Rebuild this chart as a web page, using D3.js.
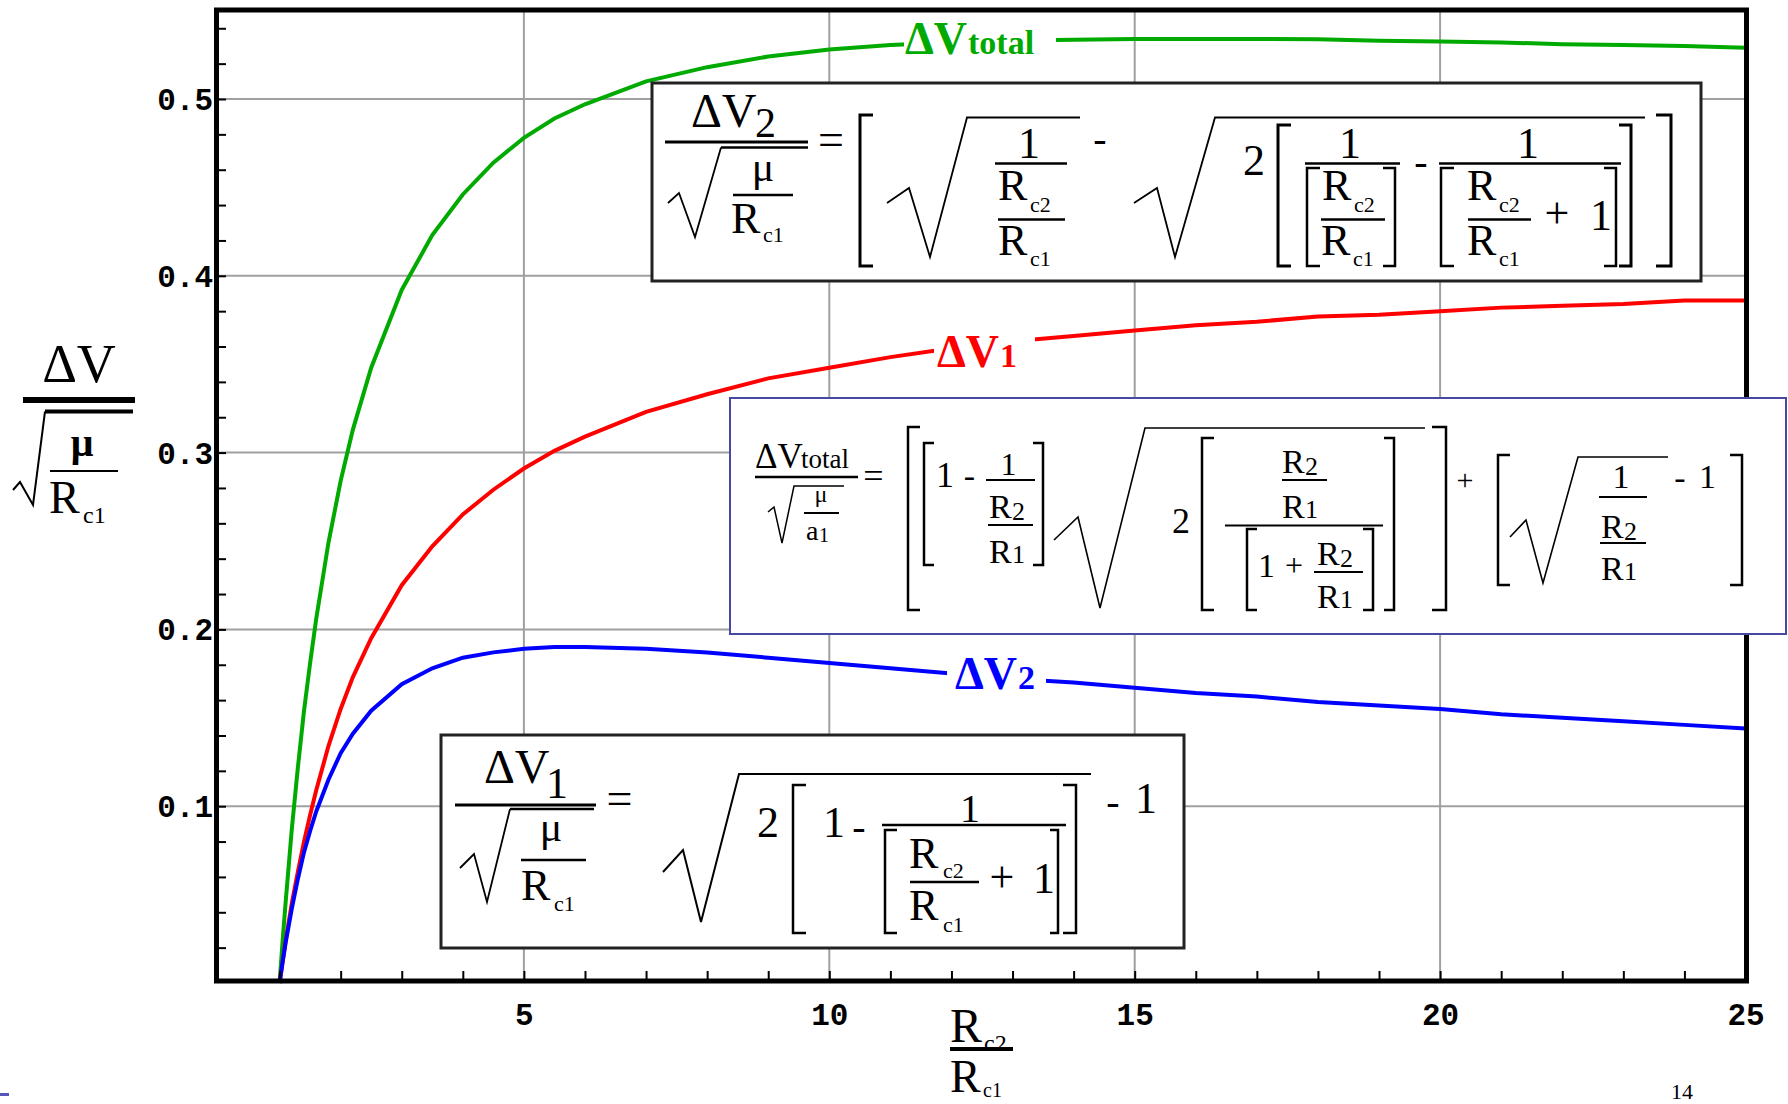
<!DOCTYPE html>
<html><head><meta charset="utf-8">
<script src="https://cdn.jsdelivr.net/npm/d3@7"></script>
<style>html,body{margin:0;padding:0;background:#fff;overflow:hidden}</style>
</head><body>
<script>
// ---------------- DATA ----------------
const xVals   = [1,1.05,1.1,1.2,1.3,1.4,1.5,1.6,1.8,2,2.2,2.5,3,3.5,4,4.5,5,5.5,6,7,8,9,10,11,12,13,14,15,16,17,18,19,20,21,22,23,24,25];
const dvTotal = [0,0.024,0.046,0.087,0.122,0.154,0.181,0.206,0.249,0.284,0.313,0.348,0.392,0.423,0.446,0.464,0.478,0.489,0.497,0.510,0.518,0.524,0.528,0.5305,0.532,0.533,0.5335,0.534,0.534,0.534,0.5338,0.533,0.5325,0.532,0.531,0.5305,0.530,0.529];
const dv1     = [0,0.012,0.024,0.045,0.063,0.080,0.095,0.109,0.134,0.155,0.173,0.195,0.225,0.247,0.265,0.279,0.291,0.301,0.309,0.323,0.333,0.342,0.348,0.354,0.359,0.363,0.366,0.369,0.372,0.374,0.377,0.378,0.380,0.382,0.383,0.384,0.386,0.386];
const dv2     = [0,0.012,0.023,0.042,0.059,0.074,0.086,0.097,0.115,0.130,0.141,0.154,0.169,0.178,0.184,0.187,0.189,0.190,0.190,0.189,0.187,0.184,0.181,0.178,0.175,0.172,0.170,0.167,0.164,0.162,0.159,0.157,0.155,0.152,0.150,0.148,0.146,0.144];
const seriesNames  = ["total","1","2"];
const xTicks       = [5,10,15,20,25];
const xTickLabels  = ["5","10","15","20","25"];
const yTicks       = [0.1,0.2,0.3,0.4,0.5];
const yTickLabels  = ["0.1","0.2","0.3","0.4","0.5"];

// ---------------- SETUP ----------------
const W = 1788, H = 1104;
const SERIF = "'Liberation Serif','Times New Roman',serif";
const MONO  = "'Liberation Mono','Courier New',monospace";
const svg = d3.select("body").append("svg").attr("width", W).attr("height", H)
  .style("display","block").style("background","#fff");

const x = d3.scaleLinear().domain([0,25]).range([218.5,1745.5]);
const y = d3.scaleLinear().domain([0,0.55]).range([983,10.6]);

function T(g, px, py, s, size, o = {}) {
  return g.append("text").attr("x", px).attr("y", py)
    .attr("font-family", o.mono ? MONO : SERIF).attr("font-size", size)
    .attr("font-weight", o.bold ? "bold" : "normal")
    .attr("text-anchor", o.anchor || "start")
    .attr("fill", o.fill || "#000").text(s);
}
function L(g, x1, y1, x2, y2, w = 2.5, c = "#000") {
  return g.append("line").attr("x1",x1).attr("y1",y1).attr("x2",x2).attr("y2",y2)
    .attr("stroke", c).attr("stroke-width", w);
}
function P(g, pts, w = 1.8) {
  return g.append("path").attr("d", d3.line()(pts)).attr("fill","none")
    .attr("stroke","#000").attr("stroke-width", w).attr("stroke-linejoin","miter");
}
function BL(g, x1, x2, y1, y2, w = 2.5) {
  return g.append("path").attr("d", `M${x2},${y1}H${x1}V${y2}H${x2}`).attr("fill","none")
    .attr("stroke","#000").attr("stroke-width", w);
}
function BR(g, x1, x2, y1, y2, w = 2.5) {
  return g.append("path").attr("d", `M${x1},${y1}H${x2}V${y2}H${x1}`).attr("fill","none")
    .attr("stroke","#000").attr("stroke-width", w);
}
// R with a small subscript
function RS(g, px, py, sub, size, subSize, dx, dy) {
  T(g, px, py, "R", size);
  T(g, px + dx, py + dy, sub, subSize);
}

// ---------------- GRID ----------------
const grid = svg.append("g");
xTicks.slice(0,4).forEach(v => L(grid, x(v), 12, x(v), 979, 2, "#a0a0a0"));
yTicks.forEach(v => L(grid, 219, y(v), 1744, y(v), 2, "#a0a0a0"));

// ---------------- CURVES ----------------
const line = d3.line().x(d => x(d[0])).y(d => y(d[1]));
const series = [
  {name: seriesNames[0], vals: dvTotal, color: "#00aa00"},
  {name: seriesNames[1], vals: dv1, color: "#ff0000"},
  {name: seriesNames[2], vals: dv2, color: "#0000ff"}
];
series.forEach(s => {
  svg.append("path").attr("d", line(xVals.map((v,i)=>[v, s.vals[i]])))
    .attr("fill","none").attr("stroke", s.color).attr("stroke-width", 4);
});

// ---------------- CURVE LABELS ----------------
const lab = svg.append("g");
lab.append("rect").attr("x",904).attr("y",15).attr("width",152).attr("height",46).attr("fill","#fff");
T(lab, 905, 54, "ΔV", 46, {bold:true, fill:"#00aa00"});
T(lab, 968, 54, "total", 34, {bold:true, fill:"#00aa00"});

lab.append("rect").attr("x",934).attr("y",325).attr("width",101).attr("height",50).attr("fill","#fff");
T(lab, 937, 367, "ΔV", 46, {bold:true, fill:"#ff0000"});
T(lab, 1000, 367, "1", 34, {bold:true, fill:"#ff0000"});

lab.append("rect").attr("x",947).attr("y",650).attr("width",99).attr("height",50).attr("fill","#fff");
T(lab, 955, 689, "ΔV", 46, {bold:true, fill:"#0000ff"});
T(lab, 1018, 689, "2", 34, {bold:true, fill:"#0000ff"});

// ---------------- FRAME & TICKS ----------------
svg.append("rect").attr("x",216.5).attr("y",10).attr("width",1530).attr("height",971)
  .attr("fill","none").attr("stroke","#000").attr("stroke-width",5);

const yMinor = d3.range(1,28).map(i => +(i*0.02).toFixed(2));
const gyt = svg.append("g").attr("transform","translate(218,0)")
  .call(d3.axisRight(y).tickValues(yMinor).tickSize(8).tickFormat(""));
gyt.select(".domain").remove();
gyt.selectAll("line").attr("stroke","#000").attr("stroke-width",2);

const gxt = svg.append("g").attr("transform","translate(0,979)")
  .call(d3.axisTop(x).tickValues(d3.range(1,25)).tickSize(8).tickFormat(""));
gxt.select(".domain").remove();
gxt.selectAll("line").attr("stroke","#000").attr("stroke-width",2);

// tick labels
const gyl = svg.append("g").attr("transform","translate(213,0)")
  .call(d3.axisLeft(y).tickValues(yTicks).tickSize(0).tickPadding(0).tickFormat((d,i)=>yTickLabels[i]));
gyl.select(".domain").remove();
gyl.selectAll("text").attr("font-family",MONO).attr("font-size",31).attr("font-weight","bold")
  .attr("fill","#000").attr("dy","0.34em");

const gxl = svg.append("g").attr("transform","translate(0,981)")
  .call(d3.axisBottom(x).tickValues(xTicks).tickSize(0).tickPadding(0).tickFormat((d,i)=>xTickLabels[i]));
gxl.select(".domain").remove();
gxl.selectAll("text").attr("font-family",MONO).attr("font-size",31).attr("font-weight","bold")
  .attr("fill","#000").attr("y",44).attr("dy",null);

// ---------------- BOX 1 : ΔV2 ----------------
const b1 = svg.append("g");
b1.append("rect").attr("x",652).attr("y",83).attr("width",1049).attr("height",198)
  .attr("fill","#fff").attr("stroke","#222").attr("stroke-width",3);
T(b1, 691, 127, "ΔV", 48);
T(b1, 755, 137, "2", 42);
L(b1, 665, 142, 808, 142, 3);
L(b1, 721, 147.5, 808, 147.5, 2.5);
P(b1, [[668,203],[679,193],[695,237],[721,147.5]]);
T(b1, 763, 181, "μ", 42, {anchor:"middle"});
L(b1, 733, 195, 793, 195, 2.5);
RS(b1, 731, 233, "c1", 44, 22, 32, 9);
T(b1, 831, 155, "=", 46, {anchor:"middle"});
BL(b1, 860, 873, 115, 266, 3);
P(b1, [[887,203],[909,188],[930,257],[967,117.5],[1080,117.5]]);
T(b1, 1029, 158, "1", 44, {anchor:"middle"});
L(b1, 995, 163.5, 1067, 163.5);
RS(b1, 998, 200, "c2", 44, 22, 32, 12);
L(b1, 998, 219.5, 1065, 219.5);
RS(b1, 998, 255, "c1", 44, 22, 32, 11);
T(b1, 1100, 152, "-", 40, {anchor:"middle"});
P(b1, [[1134,203],[1157,188],[1175,257],[1215,117.5],[1645,117.5]]);
T(b1, 1243, 175, "2", 44);
BL(b1, 1278, 1291, 125, 266, 3);
T(b1, 1350, 158, "1", 44, {anchor:"middle"});
L(b1, 1305, 163.5, 1400, 163.5);
BL(b1, 1307, 1320, 168, 266);
BR(b1, 1383, 1395, 168, 266);
RS(b1, 1322, 200, "c2", 44, 22, 32, 12);
L(b1, 1321, 219.5, 1385, 219.5);
RS(b1, 1321, 255, "c1", 44, 22, 32, 11);
T(b1, 1421, 175, "-", 40, {anchor:"middle"});
T(b1, 1528, 158, "1", 44, {anchor:"middle"});
L(b1, 1439, 163.5, 1621, 163.5);
BL(b1, 1441, 1454, 168, 266);
BR(b1, 1604, 1616, 168, 266);
RS(b1, 1467, 200, "c2", 44, 22, 32, 12);
L(b1, 1468, 219.5, 1531, 219.5);
RS(b1, 1467, 255, "c1", 44, 22, 32, 11);
T(b1, 1557, 228, "+", 44, {anchor:"middle"});
T(b1, 1590, 230, "1", 44);
BR(b1, 1619, 1631, 125, 266, 3);
BR(b1, 1656, 1671, 115, 266, 3);

// ---------------- BOX 2 : ΔVtotal ----------------
const b2 = svg.append("g");
b2.append("rect").attr("x",730).attr("y",398).attr("width",1056).attr("height",236)
  .attr("fill","#fff").attr("stroke","#4848a0").attr("stroke-width",2);
T(b2, 755, 468, "ΔV", 35);
T(b2, 801, 468, "total", 27);
L(b2, 755, 477, 858, 477, 2.5);
P(b2, [[768,512],[774,507],[782,543],[794,486],[844,486]], 1.5);
T(b2, 821, 502, "μ", 24, {anchor:"middle"});
L(b2, 804, 513, 839, 513, 2);
T(b2, 806, 540, "a", 28); T(b2, 819, 542, "1", 20);
T(b2, 873.5, 488, "=", 36, {anchor:"middle"});
BL(b2, 908, 920, 427, 610);
BL(b2, 924, 934, 443, 565);
T(b2, 936, 487, "1", 36);
T(b2, 969.5, 487, "-", 34, {anchor:"middle"});
T(b2, 1008.5, 475, "1", 32, {anchor:"middle"});
L(b2, 986, 480, 1035, 480, 2);
RS(b2, 989, 518, "2", 34, 26, 23, 2);
L(b2, 988, 525, 1033, 525, 2);
RS(b2, 989, 563, "1", 34, 26, 23, 0);
BR(b2, 1033, 1043, 443, 565);
P(b2, [[1054,540],[1078,517],[1100,608],[1145,428],[1425,428]], 1.6);
T(b2, 1172, 533, "2", 36);
BL(b2, 1202, 1214, 438, 610);
RS(b2, 1282, 473, "2", 34, 26, 23, 2);
L(b2, 1282, 480, 1327, 480, 2);
RS(b2, 1282, 518, "1", 34, 26, 23, 0);
L(b2, 1225, 525.5, 1383, 525.5, 2);
BL(b2, 1247, 1257, 529, 610);
T(b2, 1258, 577, "1", 34);
T(b2, 1294, 576, "+", 32, {anchor:"middle"});
RS(b2, 1317, 565, "2", 34, 26, 23, 2);
L(b2, 1314, 572, 1363, 572, 2);
RS(b2, 1317, 608, "1", 34, 26, 23, 0);
BR(b2, 1363, 1373, 529, 610);
BR(b2, 1384, 1394, 438, 610);
BR(b2, 1432, 1446, 427, 610);
T(b2, 1465, 490, "+", 30, {anchor:"middle"});
BL(b2, 1498, 1510, 455, 585);
P(b2, [[1510,537],[1526,520],[1543,583],[1578,457],[1668,457]], 1.6);
T(b2, 1621, 488, "1", 34, {anchor:"middle"});
L(b2, 1599, 497, 1647, 497, 2);
RS(b2, 1601, 538, "2", 34, 26, 23, 2);
L(b2, 1600, 543, 1646, 543, 2);
RS(b2, 1601, 580, "1", 34, 26, 23, 0);
T(b2, 1680, 489, "-", 34, {anchor:"middle"});
T(b2, 1699, 488, "1", 34);
BR(b2, 1730, 1742, 455, 585);

// ---------------- BOX 3 : ΔV1 ----------------
const b3 = svg.append("g");
b3.append("rect").attr("x",441).attr("y",735).attr("width",743).attr("height",213)
  .attr("fill","#fff").attr("stroke","#222").attr("stroke-width",3);
T(b3, 484, 783, "ΔV", 48);
T(b3, 546, 798, "1", 44);
L(b3, 455, 805, 596, 805, 3);
L(b3, 510, 809, 594, 809, 2.5);
P(b3, [[460,868],[474,854],[487,902],[510,809]]);
T(b3, 551, 841, "μ", 42, {anchor:"middle"});
L(b3, 521, 860, 586, 860, 2.5);
RS(b3, 521, 900, "c1", 44, 22, 33, 11);
T(b3, 619.5, 814, "=", 46, {anchor:"middle"});
P(b3, [[663,872],[683,850],[701,922],[739,774],[1091,774]], 2);
T(b3, 757, 837, "2", 44);
BL(b3, 793, 806, 785, 933);
T(b3, 823, 837, "1", 44);
T(b3, 859, 840, "-", 40, {anchor:"middle"});
T(b3, 970, 822, "1", 40, {anchor:"middle"});
L(b3, 882, 825, 1066, 825);
BL(b3, 885, 897, 830, 933);
RS(b3, 909, 868, "c2", 44, 22, 34, 10);
L(b3, 910, 882, 979, 882);
RS(b3, 909, 920, "c1", 44, 22, 34, 12);
T(b3, 1002, 892, "+", 44, {anchor:"middle"});
T(b3, 1033, 893, "1", 44);
BR(b3, 1050, 1058, 830, 933);
BR(b3, 1063, 1076, 785, 933);
T(b3, 1113, 815, "-", 40, {anchor:"middle"});
T(b3, 1135, 813, "1", 44);

// ---------------- AXIS TITLES ----------------
const at = svg.append("g");
T(at, 79, 382, "ΔV", 54, {anchor:"middle"});
L(at, 23, 400, 135, 400, 6);
L(at, 45, 411.5, 133, 411.5, 4);
P(at, [[13,490],[20,482],[33,505],[45,411.5]], 2);
T(at, 82, 456, "μ", 40, {anchor:"middle", bold:true});
L(at, 50, 471, 118, 471, 2);
RS(at, 49, 513, "c1", 46, 24, 34, 10);

RS(at, 950, 1042, "c2", 48, 24, 34, 9);
L(at, 950, 1049, 1013, 1049, 4);
RS(at, 950, 1092, "c1", 46, 20, 33, 5);

// page decorations
svg.append("rect").attr("x",0).attr("y",1093).attr("width",9).attr("height",3).attr("fill","#5555bb");
T(svg, 1671, 1099, "14", 22);
</script>
</body></html>
